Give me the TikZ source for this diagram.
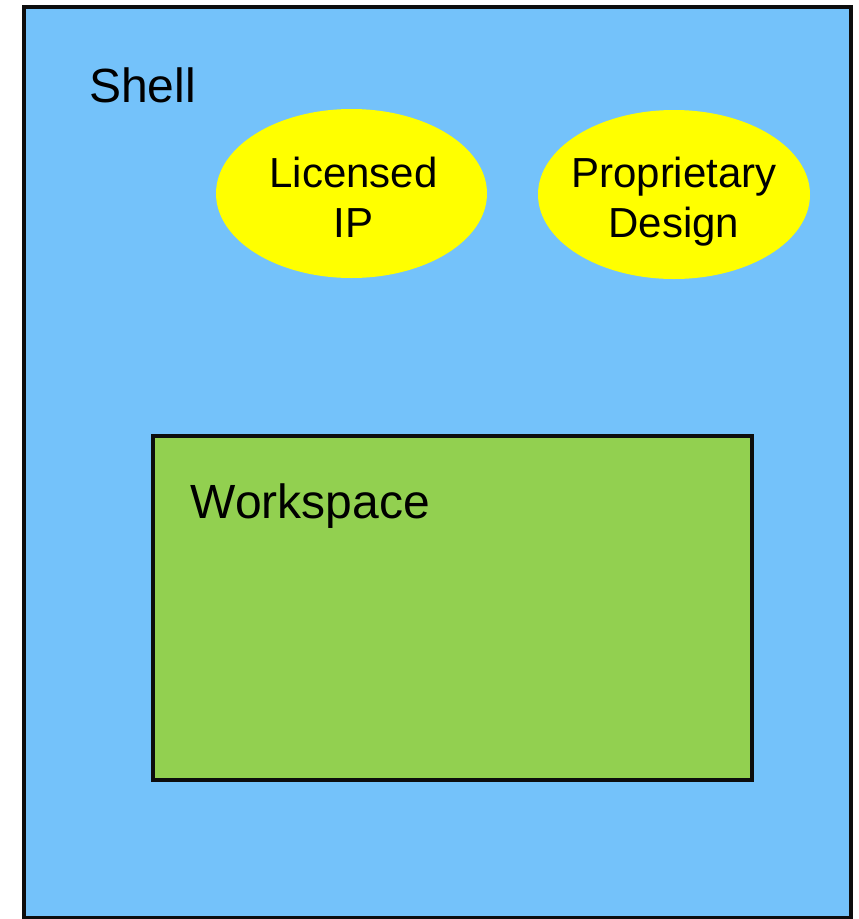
\documentclass[tikz,border=0pt]{standalone}
\usepackage{fontspec}
\setmainfont{Liberation Sans}
\definecolor{shellblue}{RGB}{116,194,250}
\definecolor{wsgreen}{RGB}{146,208,80}
\definecolor{ipyellow}{RGB}{255,255,0}
\tikzset{
  box/.style={draw=black!95, line width=4pt},
  blob/.style={fill=ipyellow},
  iptext/.style={anchor=base, inner sep=0pt, font=\fontsize{42}{50}\selectfont},
  lbl/.style={anchor=base west, inner sep=0pt, font=\fontsize{48}{56}\selectfont}
}
\begin{document}
\begin{tikzpicture}[x=1pt,y=-1pt]
  \useasboundingbox (0,0) rectangle (859,919);
  \fill[white] (0,0) rectangle (859,919);
  % outer shell
  \draw[box, fill=shellblue] (24,7) rectangle (850.5,918);
  \node[lbl] (shell) at (89,102) {Shell};
  % IP blocks
  \coordinate (lic) at (351.5,193.5);
  \coordinate (prop) at (674,194.5);
  \fill[blob] (lic) ellipse [x radius=135.5, y radius=84.5];
  \fill[blob] (prop) ellipse [x radius=136, y radius=84.5];
  \node[iptext] (lic1) at (353.5,187) {Licensed};
  \node[iptext] (lic2) at (353.5,237) {IP};
  \node[iptext] (prop1) at (674,187) {Proprietary};
  \node[iptext] (prop2) at (674,237) {Design};
  % workspace region
  \draw[box, fill=wsgreen] (153,436) rectangle (752,780);
  \node[lbl] (ws) at (190.5,518) {Workspace};
\end{tikzpicture}
\end{document}
